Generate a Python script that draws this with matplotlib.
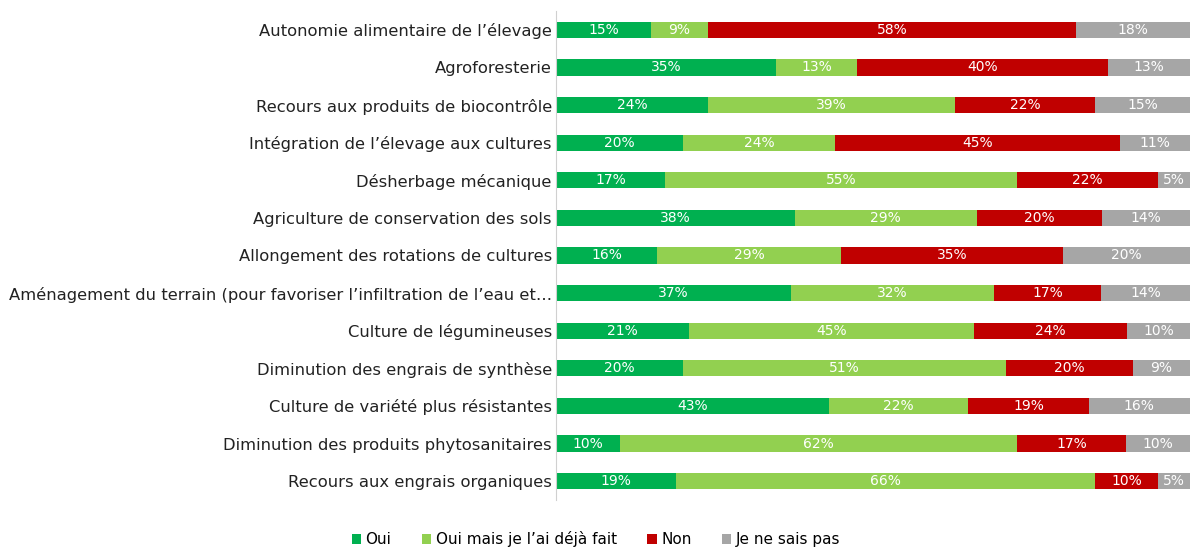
import numpy as np
import matplotlib
matplotlib.use("Agg")
import matplotlib.pyplot as plt

categories = [
    "Autonomie alimentaire de l’élevage",
    "Agroforesterie",
    "Recours aux produits de biocontrôle",
    "Intégration de l’élevage aux cultures",
    "Désherbage mécanique",
    "Agriculture de conservation des sols",
    "Allongement des rotations de cultures",
    "Aménagement du terrain (pour favoriser l’infiltration de l’eau et…",
    "Culture de légumineuses",
    "Diminution des engrais de synthèse",
    "Culture de variété plus résistantes",
    "Diminution des produits phytosanitaires",
    "Recours aux engrais organiques",
]
oui = [15, 35, 24, 20, 17, 38, 16, 37, 21, 20, 43, 10, 19]
oui_deja = [9, 13, 39, 24, 55, 29, 29, 32, 45, 51, 22, 62, 66]
non = [58, 40, 22, 45, 22, 20, 35, 17, 24, 20, 19, 17, 10]
nsp = [18, 13, 15, 11, 5, 14, 20, 14, 10, 9, 16, 10, 5]

series = ["Oui", "Oui mais je l’ai déjà fait", "Non", "Je ne sais pas"]
colors = ["#00B050", "#92D050", "#C00000", "#A6A6A6"]

data = np.array([oui, oui_deja, non, nsp], dtype=float)
totals = data.sum(axis=0)
shares = data / totals * 100

fig = plt.figure(figsize=(11.92, 5.5), dpi=100)
ax = fig.add_axes([0.4664, 0.091, 0.532, 0.889])

y = np.arange(len(categories))
left = np.zeros(len(categories))
for k in range(4):
    bars = ax.barh(y, shares[k], left=left, height=0.43, color=colors[k],
                   label=series[k])
    for i, b in enumerate(bars):
        ax.text(left[i] + shares[k][i] / 2, y[i], "%d%%" % data[k][i],
                ha="center", va="center", color="white", fontsize=10)
    left += shares[k]

ax.set_xlim(0, 100)
ax.set_ylim(len(categories) - 0.5, -0.5)
ax.set_yticks(y)
ax.set_yticklabels(categories, fontsize=11.75, color="#222222")
ax.tick_params(axis="y", length=0, pad=3)
ax.set_xticks([])
for s in ["top", "right", "bottom"]:
    ax.spines[s].set_visible(False)
ax.spines["left"].set_color("#d0d0d0")

fig.legend(loc="lower center", bbox_to_anchor=(0.5, -0.02), ncol=4,
           frameon=False, fontsize=11, handlelength=0.6, handleheight=0.6,
           handletextpad=0.3, columnspacing=2.0)

plt.savefig("out.png", dpi=100)
